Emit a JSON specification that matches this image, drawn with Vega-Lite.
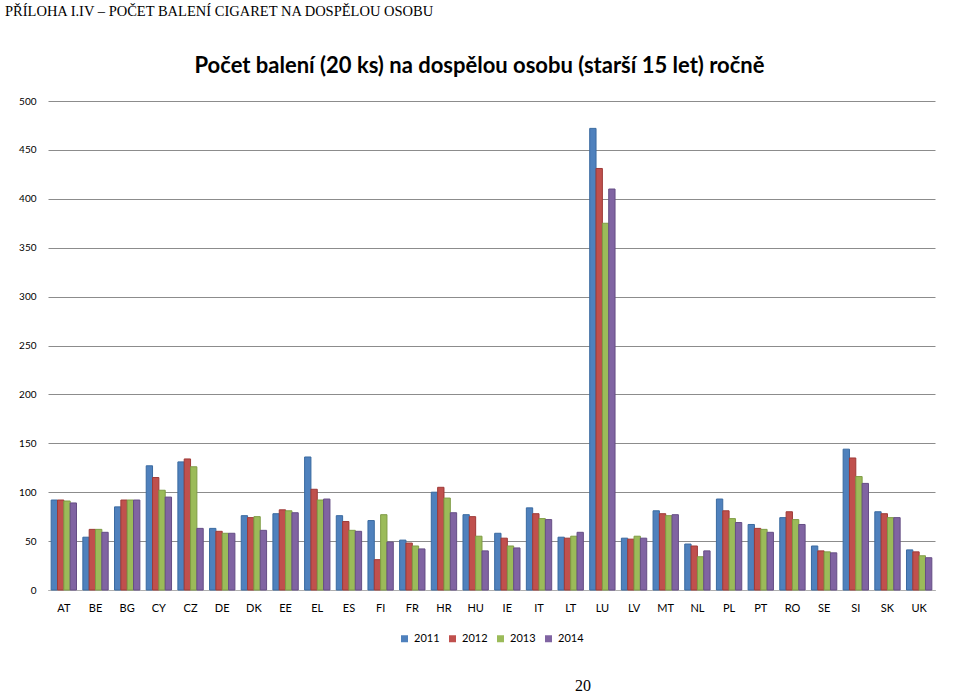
{
  "$schema": "https://vega.github.io/schema/vega-lite/v6.json",
  "padding": {"left": 5, "top": 3, "right": 4, "bottom": 0},
  "background": "white",
  "title": {
    "text": "PŘÍLOHA I.IV – POČET BALENÍ CIGARET NA DOSPĚLOU OSOBU",
    "anchor": "start",
    "font": "Liberation Serif",
    "fontSize": 14.5,
    "fontWeight": "normal",
    "color": "#000000",
    "offset": 36
  },
  "datasets": {
    "main": [
      {"country": "AT", "year": "2011", "value": 92}, {"country": "AT", "year": "2012", "value": 92}, {"country": "AT", "year": "2013", "value": 91}, {"country": "AT", "year": "2014", "value": 89},
      {"country": "BE", "year": "2011", "value": 54}, {"country": "BE", "year": "2012", "value": 62}, {"country": "BE", "year": "2013", "value": 62}, {"country": "BE", "year": "2014", "value": 59},
      {"country": "BG", "year": "2011", "value": 85}, {"country": "BG", "year": "2012", "value": 92}, {"country": "BG", "year": "2013", "value": 92}, {"country": "BG", "year": "2014", "value": 92},
      {"country": "CY", "year": "2011", "value": 127}, {"country": "CY", "year": "2012", "value": 115}, {"country": "CY", "year": "2013", "value": 102}, {"country": "CY", "year": "2014", "value": 95},
      {"country": "CZ", "year": "2011", "value": 131}, {"country": "CZ", "year": "2012", "value": 134}, {"country": "CZ", "year": "2013", "value": 126}, {"country": "CZ", "year": "2014", "value": 63},
      {"country": "DE", "year": "2011", "value": 63}, {"country": "DE", "year": "2012", "value": 60}, {"country": "DE", "year": "2013", "value": 58}, {"country": "DE", "year": "2014", "value": 58},
      {"country": "DK", "year": "2011", "value": 76}, {"country": "DK", "year": "2012", "value": 74}, {"country": "DK", "year": "2013", "value": 75}, {"country": "DK", "year": "2014", "value": 61},
      {"country": "EE", "year": "2011", "value": 78}, {"country": "EE", "year": "2012", "value": 82}, {"country": "EE", "year": "2013", "value": 81}, {"country": "EE", "year": "2014", "value": 79},
      {"country": "EL", "year": "2011", "value": 136}, {"country": "EL", "year": "2012", "value": 103}, {"country": "EL", "year": "2013", "value": 92}, {"country": "EL", "year": "2014", "value": 93},
      {"country": "ES", "year": "2011", "value": 76}, {"country": "ES", "year": "2012", "value": 70}, {"country": "ES", "year": "2013", "value": 61}, {"country": "ES", "year": "2014", "value": 60},
      {"country": "FI", "year": "2011", "value": 71}, {"country": "FI", "year": "2012", "value": 31}, {"country": "FI", "year": "2013", "value": 77}, {"country": "FI", "year": "2014", "value": 49},
      {"country": "FR", "year": "2011", "value": 51}, {"country": "FR", "year": "2012", "value": 48}, {"country": "FR", "year": "2013", "value": 45}, {"country": "FR", "year": "2014", "value": 42},
      {"country": "HR", "year": "2011", "value": 100}, {"country": "HR", "year": "2012", "value": 105}, {"country": "HR", "year": "2013", "value": 94}, {"country": "HR", "year": "2014", "value": 79},
      {"country": "HU", "year": "2011", "value": 77}, {"country": "HU", "year": "2012", "value": 75}, {"country": "HU", "year": "2013", "value": 55}, {"country": "HU", "year": "2014", "value": 40},
      {"country": "IE", "year": "2011", "value": 58}, {"country": "IE", "year": "2012", "value": 53}, {"country": "IE", "year": "2013", "value": 45}, {"country": "IE", "year": "2014", "value": 43},
      {"country": "IT", "year": "2011", "value": 84}, {"country": "IT", "year": "2012", "value": 78}, {"country": "IT", "year": "2013", "value": 73}, {"country": "IT", "year": "2014", "value": 72},
      {"country": "LT", "year": "2011", "value": 54}, {"country": "LT", "year": "2012", "value": 53}, {"country": "LT", "year": "2013", "value": 55}, {"country": "LT", "year": "2014", "value": 59},
      {"country": "LU", "year": "2011", "value": 472}, {"country": "LU", "year": "2012", "value": 431}, {"country": "LU", "year": "2013", "value": 375}, {"country": "LU", "year": "2014", "value": 410},
      {"country": "LV", "year": "2011", "value": 53}, {"country": "LV", "year": "2012", "value": 52}, {"country": "LV", "year": "2013", "value": 55}, {"country": "LV", "year": "2014", "value": 53},
      {"country": "MT", "year": "2011", "value": 81}, {"country": "MT", "year": "2012", "value": 78}, {"country": "MT", "year": "2013", "value": 76}, {"country": "MT", "year": "2014", "value": 77},
      {"country": "NL", "year": "2011", "value": 47}, {"country": "NL", "year": "2012", "value": 45}, {"country": "NL", "year": "2013", "value": 34}, {"country": "NL", "year": "2014", "value": 40},
      {"country": "PL", "year": "2011", "value": 93}, {"country": "PL", "year": "2012", "value": 81}, {"country": "PL", "year": "2013", "value": 73}, {"country": "PL", "year": "2014", "value": 69},
      {"country": "PT", "year": "2011", "value": 67}, {"country": "PT", "year": "2012", "value": 63}, {"country": "PT", "year": "2013", "value": 62}, {"country": "PT", "year": "2014", "value": 59},
      {"country": "RO", "year": "2011", "value": 74}, {"country": "RO", "year": "2012", "value": 80}, {"country": "RO", "year": "2013", "value": 72}, {"country": "RO", "year": "2014", "value": 67},
      {"country": "SE", "year": "2011", "value": 45}, {"country": "SE", "year": "2012", "value": 40}, {"country": "SE", "year": "2013", "value": 39}, {"country": "SE", "year": "2014", "value": 38},
      {"country": "SI", "year": "2011", "value": 144}, {"country": "SI", "year": "2012", "value": 135}, {"country": "SI", "year": "2013", "value": 116}, {"country": "SI", "year": "2014", "value": 109},
      {"country": "SK", "year": "2011", "value": 80}, {"country": "SK", "year": "2012", "value": 78}, {"country": "SK", "year": "2013", "value": 74}, {"country": "SK", "year": "2014", "value": 74},
      {"country": "UK", "year": "2011", "value": 41}, {"country": "UK", "year": "2012", "value": 39}, {"country": "UK", "year": "2013", "value": 35}, {"country": "UK", "year": "2014", "value": 33}
    ],
    "page": [{"label": "20"}]
  },
  "vconcat": [
    {
      "width": 887,
      "height": 489,
      "data": {"name": "main"},
      "title": {
        "text": "Počet balení (20 ks) na dospělou osobu (starší 15 let) ročně",
        "font": "Lato",
        "fontSize": 22,
        "fontWeight": "bold",
        "color": "#000000",
        "anchor": "middle",
        "offset": 18,
        "dx": -12
      },
      "mark": {"type": "bar", "strokeWidth": 1},
      "encoding": {
        "x": {
          "field": "country",
          "type": "nominal",
          "sort": null,
          "scale": {"paddingInner": 0.2, "paddingOuter": 0.1},
          "axis": {
            "title": null,
            "labelAngle": 0,
            "labelFont": "Lato",
            "labelFontSize": 11,
            "labelColor": "#000000",
            "labelPadding": 12,
            "ticks": false,
            "domainColor": "#b0b0b0",
            "grid": false
          }
        },
        "xOffset": {"field": "year", "type": "nominal", "scale": {"paddingInner": 0}},
        "y": {
          "field": "value",
          "type": "quantitative",
          "scale": {"domain": [0, 500]},
          "axis": {
            "title": null,
            "values": [0, 50, 100, 150, 200, 250, 300, 350, 400, 450, 500],
            "labelFont": "Lato",
            "labelFontSize": 10,
            "labelColor": "#000000",
            "labelPadding": 12,
            "minExtent": 43,
            "ticks": false,
            "domain": false,
            "grid": true,
            "gridColor": "#8c8c8c",
            "gridWidth": 1
          }
        },
        "color": {
          "field": "year",
          "type": "nominal",
          "scale": {"domain": ["2011", "2012", "2013", "2014"], "range": ["#4F81BD", "#C0504D", "#9BBB59", "#8064A2"]},
          "legend": {
            "title": null,
            "orient": "bottom",
            "direction": "horizontal",
            "symbolType": "square",
            "symbolSize": 49,
            "symbolStrokeWidth": 0,
            "labelFont": "Lato",
            "labelFontSize": 11,
            "labelColor": "#000000",
            "columnPadding": 7,
            "offset": 20
          }
        },
        "stroke": {
          "field": "year",
          "type": "nominal",
          "scale": {"domain": ["2011", "2012", "2013", "2014"], "range": ["#3a6aa0", "#9e3a37", "#7f9c45", "#654e85"]},
          "legend": null
        }
      }
    },
    {
      "width": 1070,
      "height": 12,
      "data": {"name": "page"},
      "mark": {"type": "text", "font": "Liberation Serif", "fontSize": 16, "color": "#000000"},
      "encoding": {"text": {"field": "label", "type": "nominal"}}
    }
  ],
  "resolve": {"scale": {"color": "independent", "stroke": "independent"}, "legend": {"color": "independent", "stroke": "independent"}},
  "spacing": 34,
  "config": {"view": {"stroke": null}, "legend": {"layout": {"bottom": {"anchor": "middle"}}}}
}
